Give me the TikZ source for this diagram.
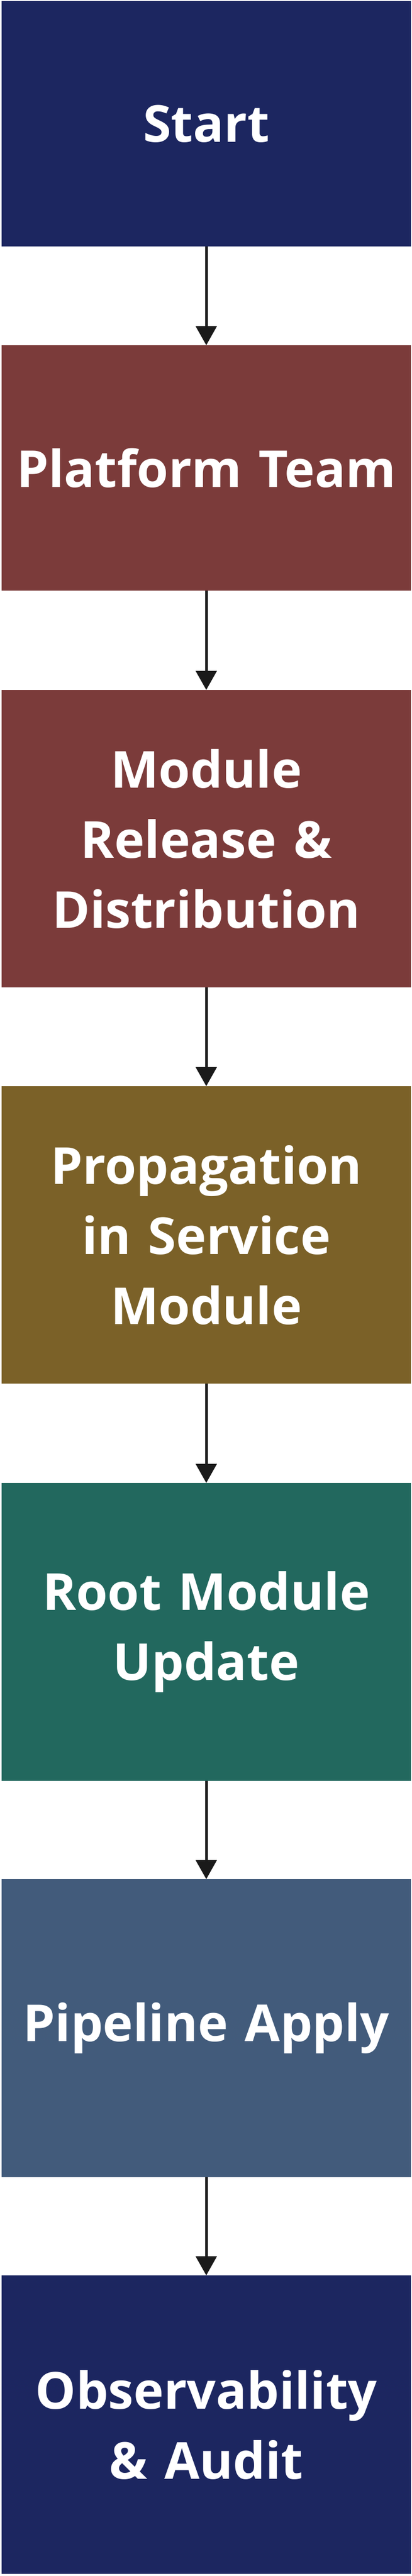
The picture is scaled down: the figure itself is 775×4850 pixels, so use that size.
\documentclass[tikz,border=0pt]{standalone}
\usepackage{fontspec}
\setmainfont{Open Sans}
\usetikzlibrary{arrows.meta}
\definecolor{cnavy}{HTML}{1C2660}
\definecolor{cbrown}{HTML}{7B3B3A}
\definecolor{cochre}{HTML}{7B6128}
\definecolor{cteal}{HTML}{22685E}
\definecolor{cslate}{HTML}{425B7B}
\definecolor{carrow}{HTML}{1A1A1A}
\tikzset{
  stepbox/.style={rectangle, inner sep=0pt, outer sep=0pt, minimum width=385pt,
    text width=370pt, align=center, text=white,
    font=\fontsize{48}{66}\selectfont\bfseries},
  flowarrow/.style={draw=carrow, line width=2.5pt,
    -{Triangle[width=19.5pt,length=18pt]}, shorten >=0pt}
}
\begin{document}
\begin{tikzpicture}[x=0.5pt,y=-0.5pt]
\useasboundingbox (0,0) rectangle (775,4850);
\node[stepbox, fill=cnavy, minimum height=231pt] (start) at (388,233) {Start};
\node[stepbox, fill=cbrown, minimum height=231pt] (platform) at (388,881) {Platform Team};
\node[stepbox, fill=cbrown, minimum height=280pt] (module) at (388,1579) {Module\\Release \&\\Distribution};
\node[stepbox, fill=cochre, minimum height=280pt] (prop) at (388,2325) {Propagation\\in Service\\Module};
\node[stepbox, fill=cteal, minimum height=280.5pt] (root) at (388,3072.5) {Root Module\\Update};
\node[stepbox, fill=cslate, minimum height=280.5pt] (pipe) at (388,3818.5) {Pipeline Apply};
\node[stepbox, fill=cnavy, minimum height=281pt] (obs) at (388,4565) {Observability\\\& Audit};
\draw[flowarrow] (start.south) -- (platform.north);
\draw[flowarrow] (platform.south) -- (module.north);
\draw[flowarrow] (module.south) -- (prop.north);
\draw[flowarrow] (prop.south) -- (root.north);
\draw[flowarrow] (root.south) -- (pipe.north);
\draw[flowarrow] (pipe.south) -- (obs.north);
\end{tikzpicture}
\end{document}
